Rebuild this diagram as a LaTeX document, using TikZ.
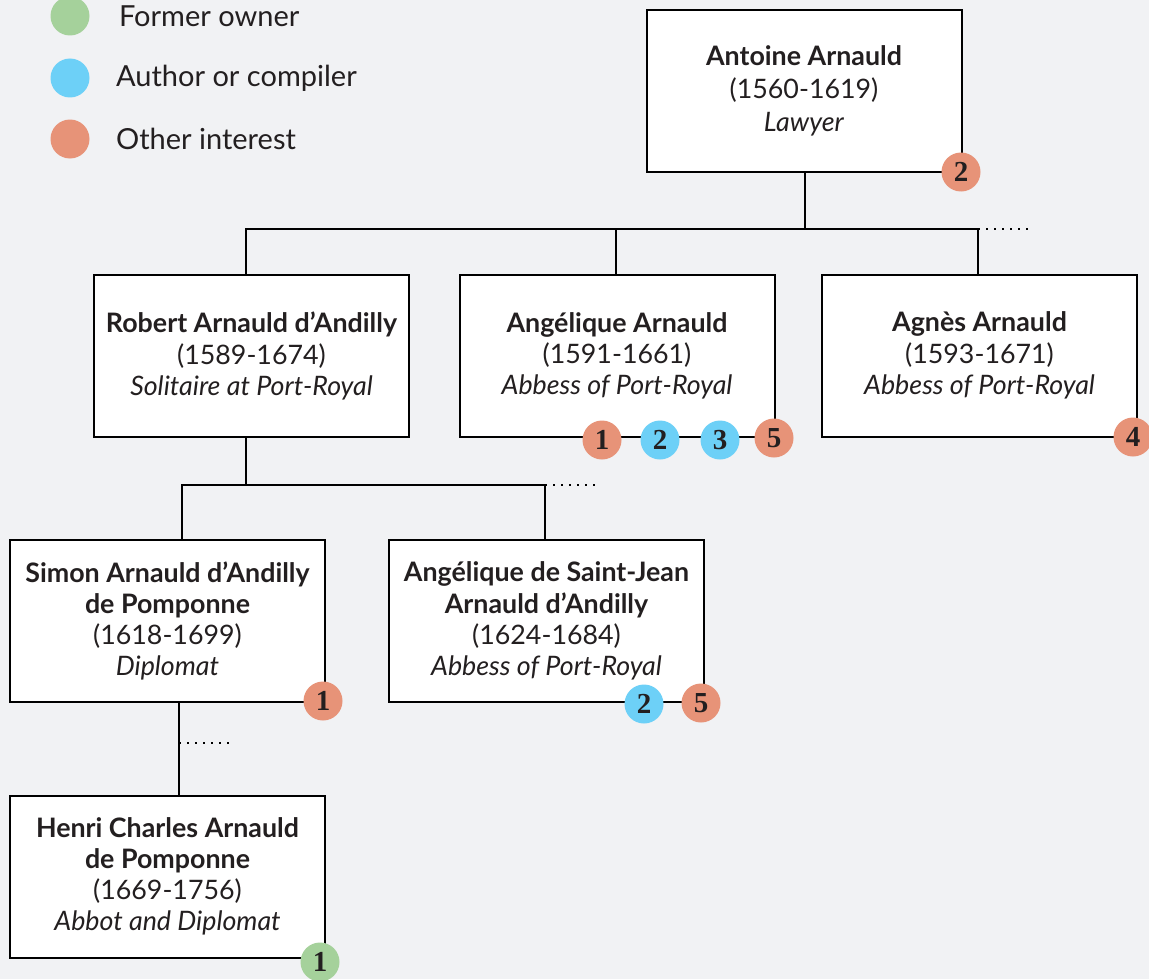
\documentclass[tikz,border=0pt]{standalone}
\usepackage{fontspec}
\setmainfont{Lato}
\newfontfamily\numfont{Liberation Serif}
\usetikzlibrary{positioning}

\definecolor{bgx}{HTML}{F1F2F4}
\definecolor{grx}{HTML}{A5D19B}
\definecolor{blx}{HTML}{6DD0F7}
\definecolor{rex}{HTML}{E79378}
\definecolor{txt}{HTML}{231F20}

\begin{document}
\begin{tikzpicture}[
        x=0.5pt,y=-0.5pt,
        node distance=12pt,
        person/.style={draw,fill=white,line width=1pt,minimum width=157.5pt,
            minimum height=81pt,align=center,text=txt,
            font=\fontsize{13.4}{15.6}\selectfont},
        badge/.style={circle,minimum size=19.5pt,inner sep=0pt,text=txt,
            font=\numfont\bfseries\fontsize{14.5}{14.5}\selectfont},
        link/.style={line width=1pt},
        more/.style={line width=1pt,dash pattern=on 1pt off 3pt}
    ]
    \fill[bgx] (0,0) rectangle (1149,979);
    \useasboundingbox (0,0) rectangle (1149,979);

    % legend
    \begin{scope}[every node/.style={circle,minimum size=19.5pt,inner sep=0pt}]
        \node (l1) [fill=grx] at (70,16)  {};
        \node (l2) [fill=blx] at (70,78)  {};
        \node (l3) [fill=rex] at (70,139) {};
    \end{scope}
    \begin{scope}[every node/.style={text=txt,font=\fontsize{14.5}{14.5}\selectfont,anchor=west}]
        \node (t1) at (112,16)  {Former owner};
        \node (t2) at (109,78)  {Author or compiler};
        \node (t3) at (109,139) {Other interest};
    \end{scope}

    % people
    \node (antoine)   [person,font=\fontsize{13.4}{16.5}\selectfont] at (804,91) {\textbf{Antoine Arnauld}\\(1560-1619)\\\textit{Lawyer}};
    \node (robert)    [person] at (251.5,356)   {\textbf{Robert Arnauld d’Andilly}\\(1589-1674)\\\textit{Solitaire at Port-Royal}};
    \node (angelique) [person] at (617,356)     {\textbf{Angélique Arnauld}\\(1591-1661)\\\textit{Abbess of Port-Royal}};
    \node (agnes)     [person] at (979.5,355.5) {\textbf{Agnès Arnauld}\\(1593-1671)\\\textit{Abbess of Port-Royal}};
    \node (simon)     [person] at (167.5,621)   {\textbf{Simon Arnauld d’Andilly}\\\textbf{de Pomponne}\\(1618-1699)\\\textit{Diplomat}};
    \node (stjean)    [person] at (546.5,621)   {\textbf{Angélique de Saint-Jean}\\\textbf{Arnauld d’Andilly}\\(1624-1684)\\\textit{Abbess of Port-Royal}};
    \node (henri)     [person] at (167.5,876.5) {\textbf{Henri Charles Arnauld}\\\textbf{de Pomponne}\\(1669-1756)\\\textit{Abbot and Diplomat}};

    % family lines
    \coordinate (fam1)  at (805,229);
    \coordinate (dots1) at (1030,229);
    \coordinate (fam2)  at (246,485);
    \coordinate (s1)    at (182,485);
    \coordinate (s2)    at (545,485);
    \coordinate (dots2) at (597,485);
    \coordinate (h1)    at (179,743);
    \coordinate (dots3) at (232,743);

    \draw[link] (antoine.south -| fam1) -- (fam1);
    \draw[link] (robert.north -| 246,0) |- (fam1) -| (agnes.north -| 978,0);
    \draw[link] (angelique.north -| 616,0) -- (616,229);
    \draw[more] (978,229) -- (dots1);

    \draw[link] (robert.south -| fam2) -- (fam2);
    \draw[link] (simon.north -| s1) -- (s1) -- (s2) -- (stjean.north -| s2);
    \draw[more] (s2) -- (dots2);

    \draw[link] (simon.south -| h1) -- (henri.north -| h1);
    \draw[more] (h1) -- (dots3);

    % badges
    \node (antoine2)   [badge,fill=rex] at (961,172) {2};
    \node (angelique1) [badge,fill=rex] at (602,440) {1};
    \node (angelique2) [badge,fill=blx] at (660,440) {2};
    \node (angelique3) [badge,fill=blx] at (720,440) {3};
    \node (angelique5) [badge,fill=rex] at (774,438) {5};
    \node (agnes4)     [badge,fill=rex] at (1133,437) {4};
    \node (simon1)     [badge,fill=rex] at (323,701) {1};
    \node (stjean2)    [badge,fill=blx] at (644,704) {2};
    \node (stjean5)    [badge,fill=rex] at (701,703) {5};
    \node (henri1)     [badge,fill=grx] at (320,962) {1};
\end{tikzpicture}
\end{document}
